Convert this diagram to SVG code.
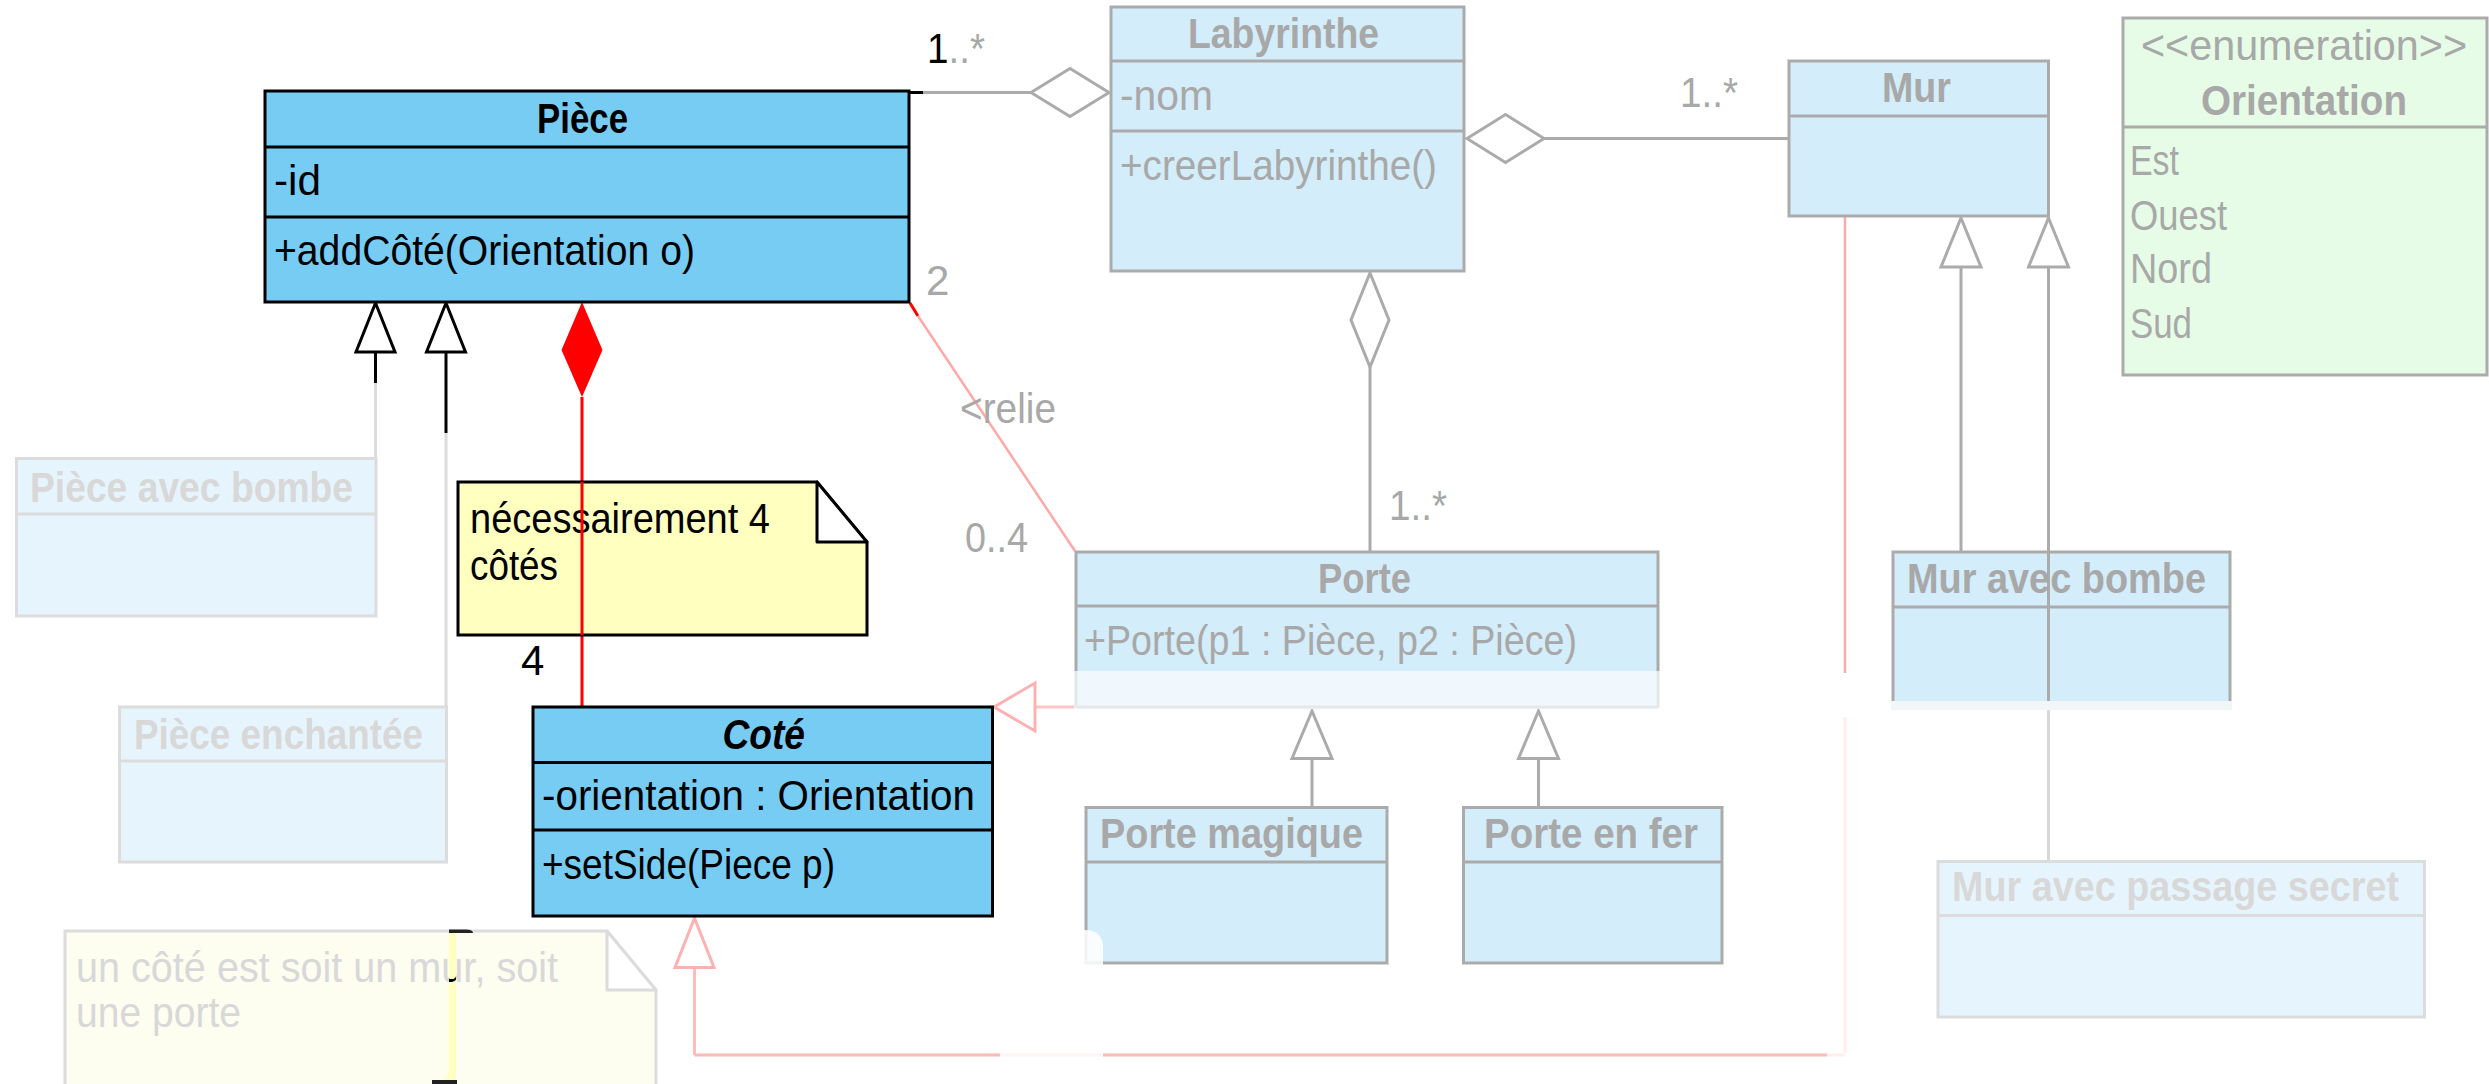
<svg xmlns="http://www.w3.org/2000/svg" width="2489" height="1084" viewBox="0 0 2489 1084">
<style>
text{font-family:"Liberation Sans",Arial,sans-serif;font-size:42px}
.b{font-weight:bold}
.k{fill:#000}
.g{fill:#A8A8A8}
.g2{fill:#D8D8D8}
.full{fill:#77CCF4;stroke:#000;stroke-width:3}
.fl{stroke:#000;stroke-width:3}
.fade{fill:#D3EDFA;stroke:#ABABAB;stroke-width:3}
.fdl{stroke:#ABABAB;stroke-width:3}
.fade2{fill:#E6F5FD;stroke:#DCDCDC;stroke-width:3}
.fd2l{stroke:#DCDCDC;stroke-width:3}
.enum{fill:#E6FCE6;stroke:#ABABAB;stroke-width:3}
.gl{stroke:#ABABAB;stroke-width:3;fill:none}
.gtri{fill:#fff;stroke:#ABABAB;stroke-width:3}
</style>
<defs>
<clipPath id="strip"><rect x="449" y="933" width="7" height="151"/></clipPath>
</defs>

<g id="connectors">
  <!-- Piece - Labyrinthe aggregation -->
  <line x1="910" y1="92.5" x2="923" y2="92.5" stroke="#000" stroke-width="3"/>
  <line x1="923" y1="92.5" x2="1031" y2="92.5" class="gl"/>
  <polygon points="1031,92.5 1070,68.5 1109,92.5 1070,116.5" class="gtri"/>
  <!-- Labyrinthe - Mur aggregation -->
  <polygon points="1467,138.5 1505.5,114.5 1544,138.5 1505.5,162.5" class="gtri"/>
  <line x1="1544" y1="138.5" x2="1789" y2="138.5" class="gl"/>
  <!-- Labyrinthe - Porte aggregation -->
  <polygon points="1370,273 1389,320 1370,367 1351,320" class="gtri"/>
  <line x1="1370" y1="367" x2="1370" y2="552" class="gl"/>
  <!-- Piece generalizations -->
  <line x1="375.5" y1="352" x2="375.5" y2="383" stroke="#000" stroke-width="3"/>
  <line x1="375.5" y1="383" x2="375.5" y2="458" stroke="#DCDCDC" stroke-width="3"/>
  <line x1="446" y1="352" x2="446" y2="433" stroke="#000" stroke-width="3"/>
  <line x1="446" y1="433" x2="446" y2="707" stroke="#DCDCDC" stroke-width="3"/>
  <polygon points="375.5,303 395,352 356,352" fill="#fff" stroke="#000" stroke-width="3"/>
  <polygon points="446,303 465.5,352 426.5,352" fill="#fff" stroke="#000" stroke-width="3"/>
  <!-- composition Piece - Cote -->
  <line x1="582" y1="397" x2="582" y2="707" stroke="#FF0000" stroke-width="3"/>
  <polygon points="582,302 602.5,350 582,397 561.5,350" fill="#FF0000"/>
  <!-- relie -->
  <line x1="910" y1="303" x2="918" y2="316" stroke="#FF0000" stroke-width="3"/>
  <line x1="918" y1="316" x2="1075" y2="551" stroke="#FFA8A8" stroke-width="2.5"/>
  <!-- Porte -> Cote generalization -->
  <line x1="1035" y1="707" x2="1076" y2="707" stroke="#FFC4C4" stroke-width="3"/>
  <polygon points="994,707 1035,683 1035,731" fill="#fff" stroke="#FFB0B0" stroke-width="3"/>
  <!-- Mur -> Cote generalization -->
  <line x1="1845" y1="216" x2="1845" y2="673" stroke="#FFA8A8" stroke-width="2.5"/>
  <line x1="1845" y1="717" x2="1845" y2="1053" stroke="#FFEEEE" stroke-width="3"/>
  <line x1="1827" y1="1055" x2="694.5" y2="1055" stroke="#FFBABA" stroke-width="3"/>
  <line x1="1827" y1="1055" x2="1845" y2="1055" stroke="#FFEEEE" stroke-width="3"/>
  <line x1="694.5" y1="1055" x2="694.5" y2="967.5" stroke="#FFBABA" stroke-width="3"/>
  <polygon points="694.5,918 714,967.5 675,967.5" fill="#fff" stroke="#FFB0B0" stroke-width="3"/>
  <!-- Mur generalizations -->
  <line x1="1961" y1="267" x2="1961" y2="552" class="gl"/>
  <line x1="2048.5" y1="267" x2="2048.5" y2="707" class="gl"/>
  <line x1="2048.5" y1="707" x2="2048.5" y2="861" stroke="#D8D8D8" stroke-width="3"/>
  <polygon points="1961,218 1981,267 1941,267" class="gtri"/>
  <polygon points="2048.5,218 2068.5,267 2028.5,267" class="gtri"/>
  <!-- Porte generalizations -->
  <line x1="1312" y1="758.5" x2="1312" y2="807.5" class="gl"/>
  <line x1="1538.5" y1="758.5" x2="1538.5" y2="807.5" class="gl"/>
  <polygon points="1312,711 1332,758.5 1292,758.5" class="gtri"/>
  <polygon points="1538.5,711 1558.5,758.5 1518.5,758.5" class="gtri"/>
</g>

<g id="piece">
  <rect x="265" y="91" width="644" height="211" class="full"/>
  <line x1="265" y1="147" x2="909" y2="147" class="fl"/>
  <line x1="265" y1="217" x2="909" y2="217" class="fl"/>
  <text x="537" y="133" class="b k" textLength="91" lengthAdjust="spacingAndGlyphs">Pièce</text>
  <text x="274" y="195" class="k" textLength="47" lengthAdjust="spacingAndGlyphs">-id</text>
  <text x="274" y="265" class="k" textLength="421" lengthAdjust="spacingAndGlyphs">+addCôté(Orientation o)</text>
</g>

<g id="labels">
  <text x="927" y="63" class="g" textLength="58" lengthAdjust="spacingAndGlyphs"><tspan class="k">1</tspan>..*</text>
  <text x="926" y="295" class="g">2</text>
  <text x="960" y="423" class="g" textLength="96" lengthAdjust="spacingAndGlyphs">&lt;relie</text>
  <text x="965" y="552" class="g" textLength="63" lengthAdjust="spacingAndGlyphs">0..4</text>
  <text x="1680" y="107" class="g" textLength="58" lengthAdjust="spacingAndGlyphs">1..*</text>
  <text x="1389" y="520" class="g" textLength="58" lengthAdjust="spacingAndGlyphs">1..*</text>
  <text x="521" y="675" class="k">4</text>
</g>

<g id="labyrinthe">
  <rect x="1111" y="7" width="353" height="264" class="fade"/>
  <line x1="1111" y1="61" x2="1464" y2="61" class="fdl"/>
  <line x1="1111" y1="131" x2="1464" y2="131" class="fdl"/>
  <text x="1188" y="48" class="b g" textLength="191" lengthAdjust="spacingAndGlyphs">Labyrinthe</text>
  <text x="1120" y="110" class="g" textLength="93" lengthAdjust="spacingAndGlyphs">-nom</text>
  <text x="1120" y="180" class="g" textLength="317" lengthAdjust="spacingAndGlyphs">+creerLabyrinthe()</text>
</g>

<g id="mur">
  <rect x="1789" y="61" width="259.5" height="155" class="fade"/>
  <line x1="1789" y1="116" x2="2048.5" y2="116" class="fdl"/>
  <text x="1882" y="102" class="b g" textLength="69" lengthAdjust="spacingAndGlyphs">Mur</text>
</g>

<g id="orientation">
  <rect x="2123" y="18" width="364" height="357" class="enum"/>
  <line x1="2123" y1="127" x2="2487" y2="127" class="fdl"/>
  <text x="2141" y="60" class="g" textLength="326" lengthAdjust="spacingAndGlyphs">&lt;&lt;enumeration&gt;&gt;</text>
  <text x="2201" y="115" class="b g" textLength="206" lengthAdjust="spacingAndGlyphs">Orientation</text>
  <text x="2130" y="175" class="g" textLength="49" lengthAdjust="spacingAndGlyphs">Est</text>
  <text x="2130" y="230" class="g" textLength="97" lengthAdjust="spacingAndGlyphs">Ouest</text>
  <text x="2130" y="283" class="g" textLength="82" lengthAdjust="spacingAndGlyphs">Nord</text>
  <text x="2130" y="338" class="g" textLength="62" lengthAdjust="spacingAndGlyphs">Sud</text>
</g>

<g id="piece-avec-bombe">
  <rect x="16.5" y="458.5" width="359.5" height="157.5" class="fade2"/>
  <line x1="16.5" y1="514" x2="376" y2="514" class="fd2l"/>
  <text x="30" y="502" class="b g2" textLength="323" lengthAdjust="spacingAndGlyphs">Pièce avec bombe</text>
</g>

<g id="piece-enchantee">
  <rect x="119.5" y="707" width="327" height="155" class="fade2"/>
  <line x1="119.5" y1="761" x2="446.5" y2="761" class="fd2l"/>
  <text x="134" y="749" class="b g2" textLength="289" lengthAdjust="spacingAndGlyphs">Pièce enchantée</text>
</g>

<g id="note-4-cotes">
  <path d="M458,482 H817 L867,542 V635 H458 Z" fill="#FFFFC0" stroke="#000" stroke-width="3"/>
  <path d="M817,482 V542 H867 Z" fill="#fff" stroke="#000" stroke-width="3" stroke-linejoin="round"/>
  <text x="470" y="533" class="k" textLength="300" lengthAdjust="spacingAndGlyphs">nécessairement 4</text>
  <text x="470" y="580" class="k" textLength="88" lengthAdjust="spacingAndGlyphs">côtés</text>
</g>
<line x1="582" y1="482" x2="582" y2="635" stroke="#FF0000" stroke-width="3"/>

<g id="cote">
  <rect x="533" y="707" width="459.5" height="209" class="full"/>
  <line x1="533" y1="762.5" x2="992.5" y2="762.5" class="fl"/>
  <line x1="533" y1="830" x2="992.5" y2="830" class="fl"/>
  <text x="722.5" y="749" class="b k" font-style="italic" textLength="82.5" lengthAdjust="spacingAndGlyphs">Coté</text>
  <text x="542" y="810" class="k" textLength="433" lengthAdjust="spacingAndGlyphs">-orientation : Orientation</text>
  <text x="542" y="879" class="k" textLength="293" lengthAdjust="spacingAndGlyphs">+setSide(Piece p)</text>
</g>

<g id="note-cote">
  <path d="M65,931 H607 L656,990 V1090 H65 Z" fill="#FDFDF0" stroke="#DCDCDC" stroke-width="3"/>
  <path d="M607,931 V990 H656 Z" fill="#fff" stroke="#DCDCDC" stroke-width="3" stroke-linejoin="round"/>
  <text x="76" y="982" class="g2" textLength="482" lengthAdjust="spacingAndGlyphs">un côté est soit un mur, soit</text>
  <text x="76" y="1027" class="g2" textLength="165" lengthAdjust="spacingAndGlyphs">une porte</text>
  <rect x="449" y="933" width="7" height="151" fill="#FFFFC0"/>
  <g clip-path="url(#strip)">
    <text x="76" y="982" class="k" textLength="482" lengthAdjust="spacingAndGlyphs">un côté est soit un mur, soit</text>
  </g>
  <path d="M449,929.5 H466 Q473,929.5 473,933 H449 Z" fill="#222"/>
  <path d="M431,1084 Q449,1080 449,1070 V1084 Z" fill="#FFFFC0"/>
  <rect x="432" y="1080" width="25" height="4" fill="#222"/>
</g>

<g id="porte">
  <rect x="1076" y="552" width="582" height="155" class="fade"/>
  <line x1="1076" y1="606" x2="1658" y2="606" class="fdl"/>
  <rect x="1074" y="671" width="586" height="38" fill="#F0F8FE"/>
  <line x1="1076" y1="671" x2="1076" y2="707" stroke="#E4E8EA" stroke-width="3"/>
  <line x1="1658" y1="671" x2="1658" y2="707" stroke="#E4E8EA" stroke-width="3"/>
  <line x1="1076" y1="707" x2="1658" y2="707" stroke="#E4E8EA" stroke-width="3"/>
  <text x="1318" y="592.5" class="b g" textLength="93" lengthAdjust="spacingAndGlyphs">Porte</text>
  <text x="1084" y="655" class="g" textLength="493" lengthAdjust="spacingAndGlyphs">+Porte(p1 : Pièce, p2 : Pièce)</text>
</g>

<g id="porte-magique">
  <rect x="1086" y="807.5" width="301" height="155.5" class="fade"/>
  <line x1="1086" y1="862" x2="1387" y2="862" class="fdl"/>
  <text x="1100" y="848" class="b g" textLength="263" lengthAdjust="spacingAndGlyphs">Porte magique</text>
</g>

<g id="porte-en-fer">
  <rect x="1463.5" y="807.5" width="258.5" height="155.5" class="fade"/>
  <line x1="1463.5" y1="862" x2="1722" y2="862" class="fdl"/>
  <text x="1484" y="848" class="b g" textLength="214" lengthAdjust="spacingAndGlyphs">Porte en fer</text>
</g>

<g id="mur-avec-bombe">
  <rect x="1893" y="552" width="337" height="155" class="fade"/>
  <line x1="1893" y1="607" x2="2230" y2="607" class="fdl"/>
  <rect x="1891" y="701" width="341" height="9" fill="#F2F6F8"/>
  <line x1="2048.5" y1="552" x2="2048.5" y2="701" class="gl"/>
  <text x="1907" y="592.5" class="b g" textLength="299" lengthAdjust="spacingAndGlyphs">Mur avec bombe</text>
</g>

<g id="mur-avec-passage-secret">
  <rect x="1938" y="861.5" width="486.5" height="155.5" class="fade2"/>
  <line x1="1938" y1="915.5" x2="2424.5" y2="915.5" class="fd2l"/>
  <text x="1952" y="901" class="b g2" textLength="447" lengthAdjust="spacingAndGlyphs">Mur avec passage secret</text>
</g>

<path d="M1000,930 H1085 Q1103,930 1103,948 V1084 H1000 Z" fill="#fff" fill-opacity="0.85"/>
</svg>
